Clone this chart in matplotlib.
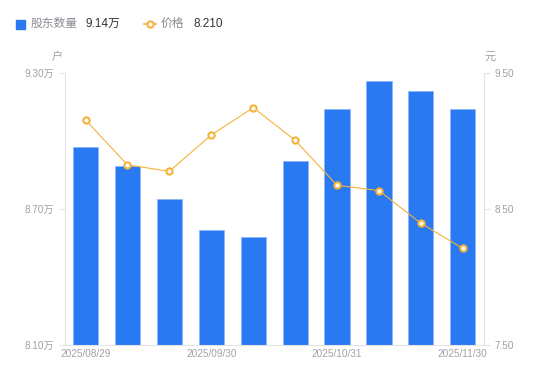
import matplotlib

matplotlib.use("Agg")
import matplotlib.pyplot as plt  # noqa: E402
from matplotlib.lines import Line2D  # noqa: E402
from matplotlib.patches import Rectangle  # noqa: E402

plt.rcParams["font.family"] = ["Liberation Sans", "Noto Sans CJK SC", "DejaVu Sans"]

# data
dates = ["2025/08/29", "2025/09/12", "2025/09/19", "2025/09/26", "2025/09/30",
         "2025/10/17", "2025/10/31", "2025/11/10", "2025/11/20", "2025/11/30"]
holders = [8.975, 8.89, 8.743, 8.609, 8.576, 8.91, 9.141, 9.265, 9.221, 9.14]  # 万户
price = [9.154, 8.824, 8.777, 9.044, 9.245, 9.005, 8.674, 8.635, 8.395, 8.21]  # 元
tick_idx = [0, 3, 6, 9]
tick_labels = ["2025/08/29", "2025/09/30", "2025/10/31", "2025/11/30"]
left_ticks = [8.10, 8.70, 9.30]
right_ticks = [7.50, 8.50, 9.50]

BLUE = "#2879f2"
ORANGE = "#f6b23a"
GRAY = "#a0a0a8"
AXIS = "#e3e3e6"

fig = plt.figure(figsize=(5.5, 3.81), dpi=100)
ax = fig.add_axes([0.1175, 0.0945, 0.762, 0.714])
x = list(range(len(dates)))
ax.bar(x, holders, width=0.6, color=BLUE, edgecolor="#8fb6f7", linewidth=0.6, zorder=2)
ax.set_xlim(-0.5, len(dates) - 0.5)
ax.set_ylim(left_ticks[0], left_ticks[-1])
ax.set_yticks(left_ticks)
ax.set_yticklabels([f"{v:.2f}万" for v in left_ticks])
ax.set_xticks(tick_idx)
ax.set_xticklabels(tick_labels)

ax2 = ax.twinx()
ax2.plot(x, price, color=ORANGE, lw=0.8, marker="o", ms=4.5, mfc="white",
         mec=ORANGE, mew=1.5, zorder=3)
ax2.set_ylim(right_ticks[0], right_ticks[-1])
ax2.set_yticks(right_ticks)
ax2.set_yticklabels([f"{v:.2f}" for v in right_ticks])

for a in (ax, ax2):
    for s in a.spines.values():
        s.set_color(AXIS)
        s.set_linewidth(0.8)
    a.spines["top"].set_visible(False)
    a.tick_params(colors=AXIS, labelcolor=GRAY, labelsize=7.2, length=4, width=0.8)
ax.tick_params(axis="x", length=0, pad=3)
ax.spines["right"].set_visible(False)
ax2.spines["left"].set_visible(False)
ax2.spines["bottom"].set_visible(False)

fig.text(57 / 550, 1 - 57 / 381, "户", color=GRAY, fontsize=8, ha="center", va="center")
fig.text(490 / 550, 1 - 57 / 381, "元", color=GRAY, fontsize=8, ha="center", va="center")

# legend
ly = 1 - 24 / 381
fig.patches.append(Rectangle((16 / 550, ly - 4.5 / 381), 9 / 550, 9 / 381,
                             transform=fig.transFigure, color=BLUE))
fig.text(31 / 550, ly, "股东数量", color="#8a8a92", fontsize=8.5, va="center")
fig.text(85 / 550, ly, f"{holders[-1]:.2f}万", color="#333333", fontsize=8.5, va="center")
fig.lines.append(Line2D([144 / 550, 156 / 550], [ly, ly], transform=fig.transFigure,
                        color=ORANGE, lw=1.2))
fig.lines.append(Line2D([150 / 550], [ly], transform=fig.transFigure, marker="o", ms=4.5,
                        mfc="white", mec=ORANGE, mew=1.5, color=ORANGE))
fig.text(161 / 550, ly, "价格", color="#8a8a92", fontsize=8.5, va="center")
fig.text(193 / 550, ly, f"{price[-1]:.3f}", color="#333333", fontsize=8.5, va="center")

fig.savefig("out.png", dpi=100)
